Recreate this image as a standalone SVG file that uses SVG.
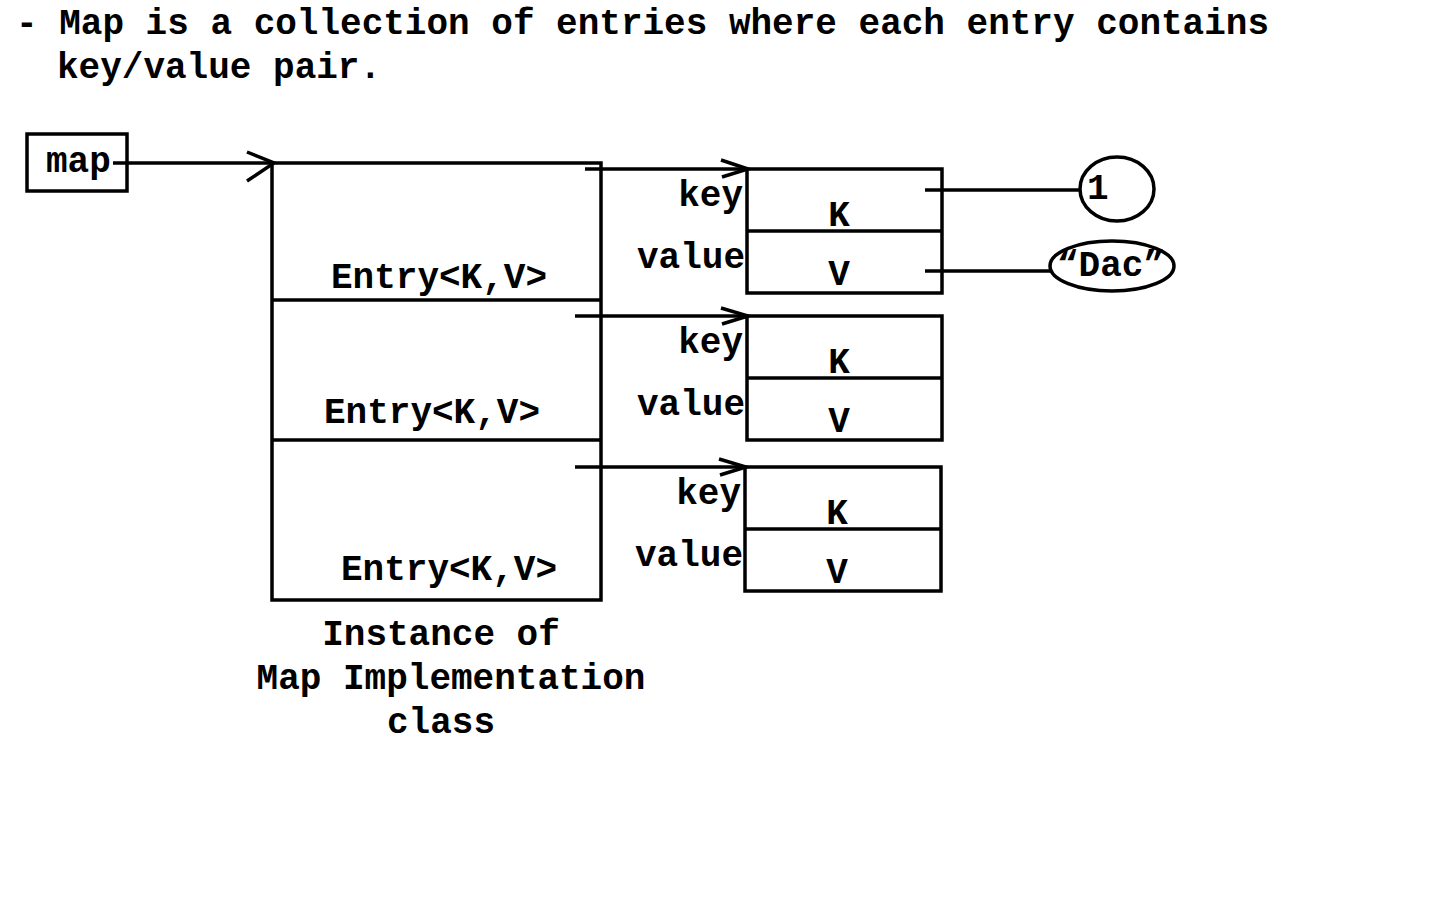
<svg xmlns="http://www.w3.org/2000/svg" width="1440" height="900" viewBox="0 0 1440 900">
<style>
text{font-family:"Liberation Mono","Courier New",monospace;font-weight:bold;font-size:36px;fill:#000}
.s{fill:none;stroke:#000;stroke-width:3.5}
.m{text-anchor:middle}
.e{text-anchor:end}
</style>
<rect width="1440" height="900" fill="#fff"/>
<g id="title">
<text x="16" y="34">- Map is a collection of entries where each entry contains</text>
<text x="57" y="78">key/value pair.</text>
</g>
<g id="map">
<rect class="s" x="27" y="134" width="100" height="57"/>
<text x="46" y="172">map</text>
</g>
<g id="instance">
<rect class="s" x="272" y="163" width="329" height="437"/>
<line class="s" x1="272" y1="300" x2="601" y2="300"/>
<line class="s" x1="272" y1="440" x2="601" y2="440"/>
<text x="331" y="288">Entry&lt;K,V&gt;</text>
<text x="324" y="423">Entry&lt;K,V&gt;</text>
<text x="341" y="580">Entry&lt;K,V&gt;</text>
<text class="m" x="441" y="645">Instance of</text>
<text class="m" x="451" y="689">Map Implementation</text>
<text class="m" x="441" y="733">class</text>
</g>
<g id="entry1">
<rect class="s" x="747" y="169" width="195" height="124"/>
<line class="s" x1="747" y1="231" x2="942" y2="231"/>
<text class="e" x="743" y="206">key</text>
<text class="e" x="745" y="268">value</text>
<text class="m" x="839" y="226">K</text>
<text class="m" x="839" y="285">V</text>
</g>
<g id="entry2">
<rect class="s" x="747" y="316" width="195" height="124"/>
<line class="s" x1="747" y1="378" x2="942" y2="378"/>
<text class="e" x="743" y="353">key</text>
<text class="e" x="745" y="415">value</text>
<text class="m" x="839" y="373">K</text>
<text class="m" x="839" y="432">V</text>
</g>
<g id="entry3">
<rect class="s" x="745" y="467" width="196" height="124"/>
<line class="s" x1="745" y1="529" x2="941" y2="529"/>
<text class="e" x="741" y="504">key</text>
<text class="e" x="743" y="566">value</text>
<text class="m" x="837" y="524">K</text>
<text class="m" x="837" y="583">V</text>
</g>
<g id="val1">
<ellipse class="s" cx="1117" cy="189" rx="37" ry="32"/>
<text x="1087" y="199">1</text>
</g>
<g id="valDac">
<ellipse class="s" cx="1112" cy="266" rx="62" ry="25"/>
<text x="1057" y="276">“Dac”</text>
</g>
<g id="connectors">
<line class="s" x1="113" y1="163" x2="274" y2="163"/>
<polyline class="s" points="247,152 274,163 247,181"/>
<line class="s" x1="585" y1="169" x2="748" y2="169"/>
<polyline class="s" points="721,160 748,169 722,177"/>
<line class="s" x1="575" y1="316" x2="748" y2="316"/>
<polyline class="s" points="721,308 748,316 722,324"/>
<line class="s" x1="575" y1="467" x2="746" y2="467"/>
<polyline class="s" points="719,459 746,467 720,475"/>
<line class="s" x1="925" y1="190" x2="1080" y2="190"/>
<line class="s" x1="925" y1="271" x2="1050" y2="271"/>
</g>
</svg>
